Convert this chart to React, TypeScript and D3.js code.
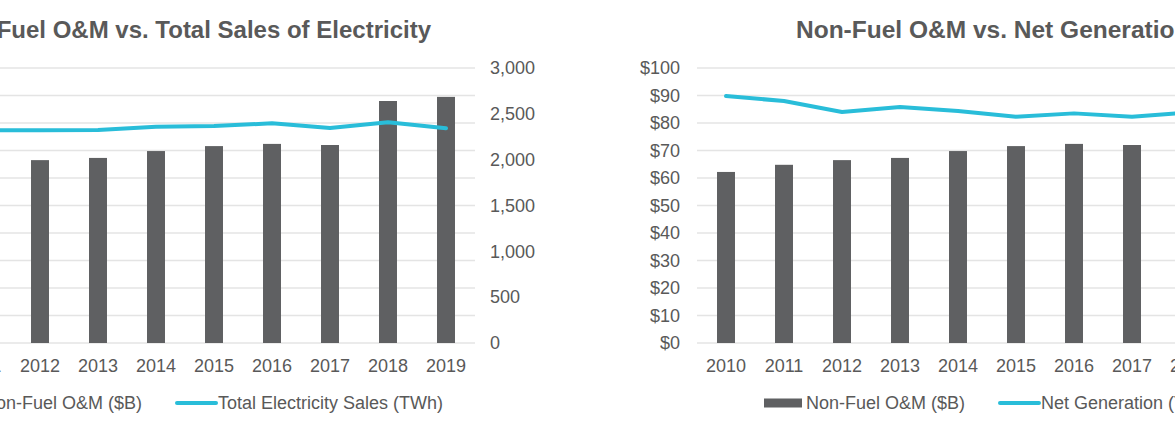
import React from "react";
import * as d3 from "d3";

const years = ["2010", "2011", "2012", "2013", "2014", "2015", "2016", "2017", "2018", "2019"];
const omBillions = [62.2, 64.8, 66.5, 67.3, 69.8, 71.6, 72.4, 72.0, 88.0, 89.5];
const salesTWh = [2330, 2320, 2320, 2324, 2360, 2367, 2397, 2345, 2408, 2342];
const netGenTWh = [4490, 4400, 4200, 4290, 4220, 4115, 4175, 4115, 4190, 4150];
const dollarTicks = [0, 10, 20, 30, 40, 50, 60, 70, 80, 90, 100];
const salesTicks = [0, 500, 1000, 1500, 2000, 2500, 3000];
const genTicks = [0, 1000, 2000, 3000, 4000, 5000];

const FONT = "'Liberation Sans', Arial, Helvetica, sans-serif";
const TEXT = "#595959";
const BAR = "#5f6062";
const LINE = "#29bdd9";
const GRID = "#e4e4e4";

type ChartProps = {
  x0: number;
  x1: number;
  title: string;
  titleX: number;
  titleSize: number;
  titleAnchor: "start" | "end" | "middle";
  lineValues: number[];
  lineMax: number;
  lineTicks: number[];
  lineLabel: string;
  legendX: number;
};

function Chart(p: ChartProps) {
  const yTop = 68;
  const yBottom = 343;
  const x = d3.scaleBand<string>().domain(years).range([p.x0, p.x1]).paddingInner(0.69).paddingOuter(0.345);
  const y = d3.scaleLinear().domain([0, 100]).range([yBottom, yTop]);
  const y2 = d3.scaleLinear().domain([0, p.lineMax]).range([yBottom, yTop]);
  const bw = x.bandwidth();
  const line = d3
    .line<number>()
    .x((_, i) => (x(years[i]) as number) + bw / 2)
    .y((v) => y2(v));
  const fmt = d3.format(",");
  const legY = 403;
  return (
    <g fontFamily={FONT} fill={TEXT}>
      <text x={p.titleX} y={37.5} textAnchor={p.titleAnchor} fontSize={p.titleSize} fontWeight="bold">
        {p.title}
      </text>
      {dollarTicks.map((t) => (
        <line key={"g" + t} x1={p.x0} x2={p.x1} y1={y(t)} y2={y(t)} stroke={GRID} strokeWidth={1.5} />
      ))}
      {dollarTicks.map((t) => (
        <text key={"l" + t} x={p.x0 - 17} y={y(t)} dy="0.35em" textAnchor="end" fontSize={18}>
          {"$" + t}
        </text>
      ))}
      {p.lineTicks.map((t) => (
        <text key={"r" + t} x={p.x1 + 15} y={y2(t)} dy="0.35em" textAnchor="start" fontSize={18}>
          {fmt(t)}
        </text>
      ))}
      {years.map((yr, i) => (
        <rect key={"b" + yr} x={x(yr)} y={y(omBillions[i])} width={bw} height={yBottom - y(omBillions[i])} fill={BAR} />
      ))}
      <path d={line(p.lineValues) || ""} fill="none" stroke={LINE} strokeWidth={4} strokeLinecap="round" strokeLinejoin="round" />
      {years.map((yr) => (
        <text key={"x" + yr} x={(x(yr) as number) + bw / 2} y={372} textAnchor="middle" fontSize={18}>
          {yr}
        </text>
      ))}
      <rect x={p.legendX} y={legY - 4.5} width={38} height={9} fill={BAR} />
      <text x={p.legendX + 42} y={409} fontSize={18}>Non-Fuel O&amp;M ($B)</text>
      <line x1={p.legendX + 236} x2={p.legendX + 275} y1={legY} y2={legY} stroke={LINE} strokeWidth={4} strokeLinecap="round" />
      <text x={p.legendX + 277} y={409} fontSize={18}>{p.lineLabel}</text>
    </g>
  );
}

export default function App() {
  return (
    <div style={{ position: "fixed", left: 0, top: 0, width: 1175, height: 432, overflow: "hidden", background: "#fff" }}>
      <svg width={1175} height={432} style={{ display: "block", overflow: "hidden" }}>
        <rect width={1175} height={432} fill="#fff" />
        <Chart
          x0={-105}
          x1={475}
          title="Non-Fuel O&M vs. Total Sales of Electricity"
          titleX={431}
          titleSize={24}
          titleAnchor="end"
          lineValues={salesTWh}
          lineMax={3000}
          lineTicks={salesTicks}
          lineLabel="Total Electricity Sales (TWh)"
          legendX={-59}
        />
        <Chart
          x0={697}
          x1={1277}
          title="Non-Fuel O&M vs. Net Generation"
          titleX={796}
          titleSize={24.5}
          titleAnchor="start"
          lineValues={netGenTWh}
          lineMax={5000}
          lineTicks={genTicks}
          lineLabel="Net Generation (TWh)"
          legendX={764}
        />
      </svg>
    </div>
  );
}
